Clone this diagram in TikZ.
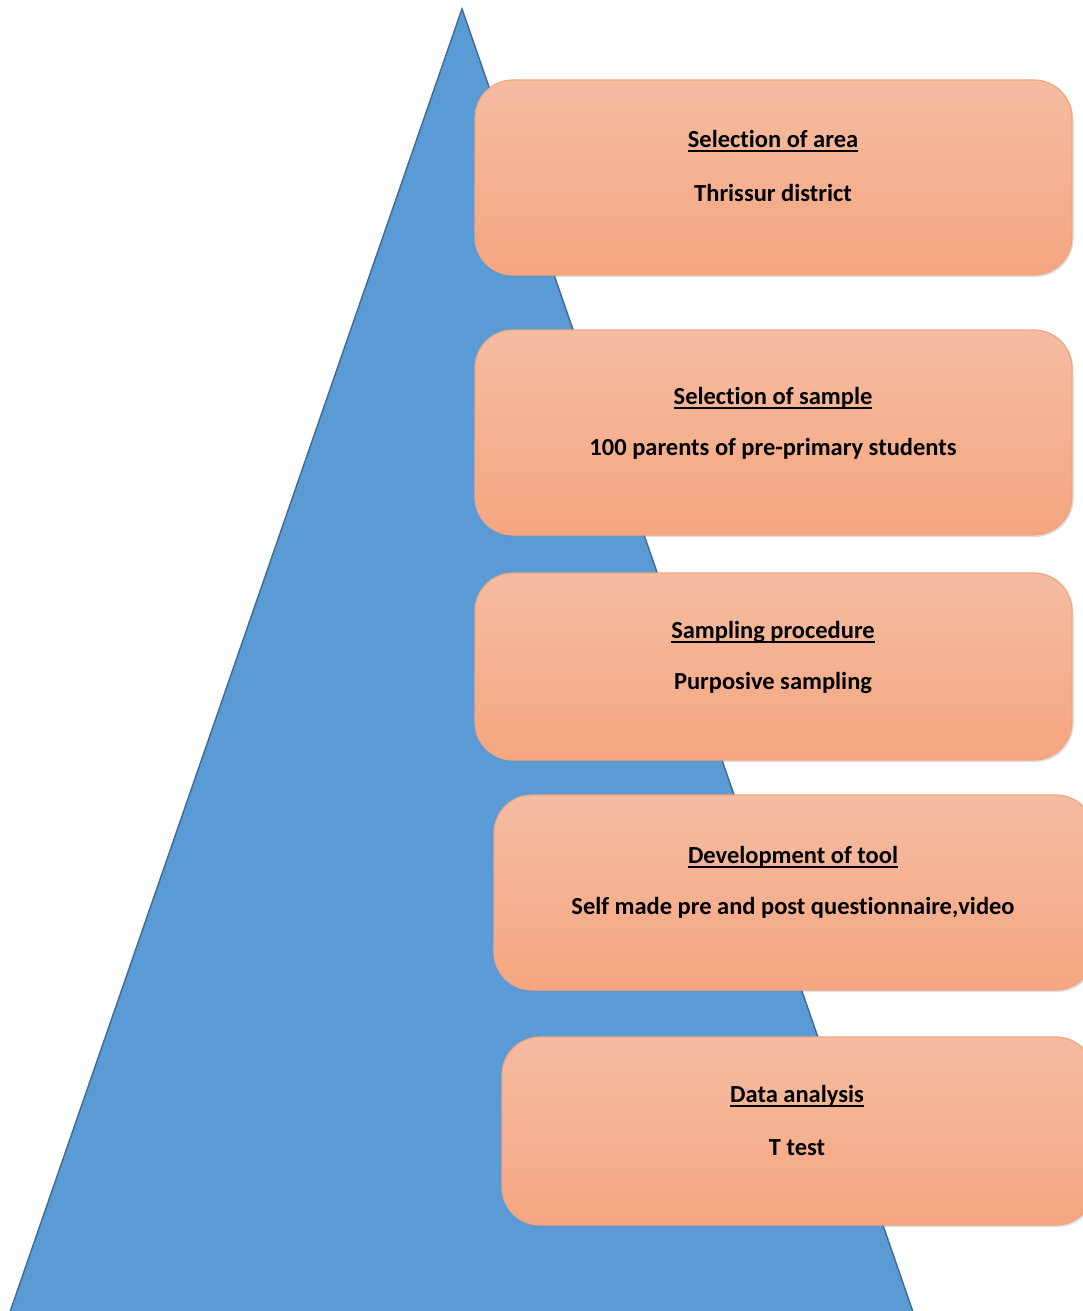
\documentclass[tikz,border=0pt]{standalone}
\usepackage{fontspec}
\setmainfont{Carlito}[Ligatures={NoCommon}]
\usetikzlibrary{shadows}
\definecolor{triblue}{HTML}{5B9BD5}
\definecolor{triedge}{HTML}{3F6E98}
\definecolor{boxtop}{HTML}{F5BCA2}
\definecolor{boxbot}{HTML}{F5A680}
\definecolor{boxedge}{HTML}{EFA77F}
\tikzset{
  x=1pt, y=-1pt,
  stagebox/.style={draw=boxedge, line width=1.2pt, rounded corners=38pt,
    top color=boxtop, bottom color=boxbot, inner sep=0pt,
    drop shadow={shadow xshift=1.5pt, shadow yshift=-2pt, opacity=0.25}},
  headtext/.style={font=\fontsize{24.5}{28}\selectfont\bfseries, text=black, inner sep=0pt},
  subtext/.style={font=\fontsize{24.5}{28}\selectfont\bfseries, text=black, inner sep=0pt},
}
\newcommand{\ul}[1]{\setbox0\hbox{#1}\rlap{\rule[-4.5pt]{\wd0}{1.8pt}}\box0}
\begin{document}
\begin{tikzpicture}
\useasboundingbox (0,0) rectangle (1083,1311);
\fill[white] (0,0) rectangle (1083,1311);
% pyramid
\coordinate (apex) at (462,9);
\coordinate (bl) at (10,1312);
\coordinate (br) at (913,1312);
\draw[fill=triblue, draw=triedge, line width=1.5pt, line join=miter] (apex) -- (bl) -- (br) -- cycle;
% boxes
\node[stagebox, minimum width=597pt, minimum height=195pt] (b1) at (773.5,177.5) {};
\node[stagebox, minimum width=597pt, minimum height=205pt] (b2) at (773.5,432.5) {};
\node[stagebox, minimum width=597pt, minimum height=187pt] (b3) at (773.5,666.5) {};
\node[stagebox, minimum width=600pt, minimum height=195pt] (b4) at (794,892.5) {};
\node[stagebox, minimum width=592pt, minimum height=188pt] (b5) at (798,1131) {};
% texts
\node[headtext] (h1) at (773,141) {\ul{Selection of area}};
\node[subtext] (s1) at (773,193) {Thrissur district};
\node[headtext] (h2) at (773,398) {\ul{Selection of sample}};
\node[subtext] (s2) at (773,449) {100 parents of pre-primary students};
\node[headtext] (h3) at (773,632) {\ul{Sampling procedure}};
\node[subtext] (s3) at (773,683) {Purposive sampling};
\node[headtext] (h4) at (793,857) {\ul{Development of tool}};
\node[subtext] (s4) at (793,908) {Self made pre and post questionnaire,video};
\node[headtext] (h5) at (797,1096) {\ul{Data analysis}};
\node[subtext] (s5) at (797,1148) {T test};
\end{tikzpicture}
\end{document}
